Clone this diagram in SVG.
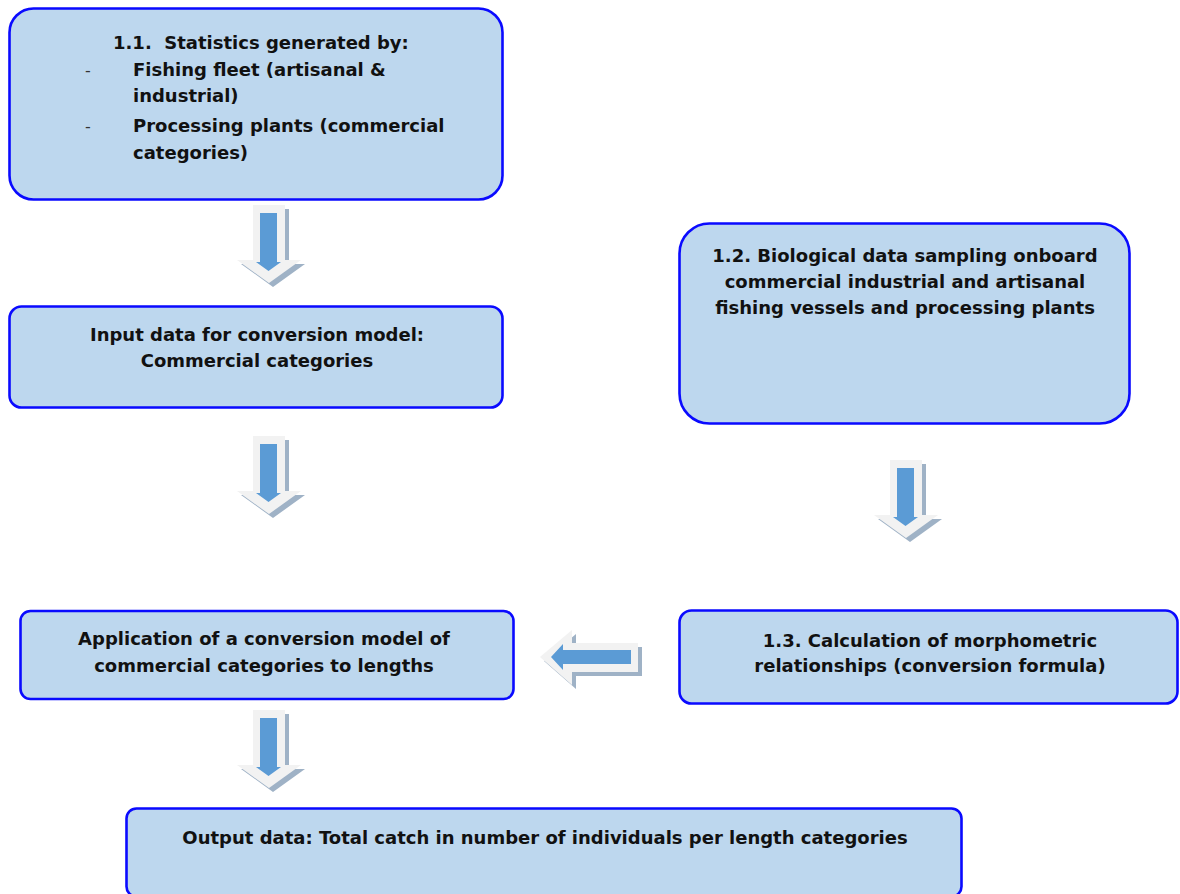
<svg xmlns="http://www.w3.org/2000/svg" width="1180" height="894" viewBox="0 0 1180 894">
<style>
.box{fill:#bdd7ee;stroke:#0a0aff;stroke-width:2.6}
.t{font-family:"DejaVu Sans","Liberation Sans",sans-serif;font-weight:bold;font-size:18px;fill:#111}
.d{font-family:"DejaVu Sans","Liberation Sans",sans-serif;font-size:16px;fill:#333}
.c{text-anchor:middle}
.sh{fill:#9fb2c6}
.ou{fill:#f2f2f2}
.in{fill:#5b9bd5}
</style>
<defs>
<g id="darr">
<path class="sh" d="M20,4 H52 V59 H68 L36,82 L4,59 H20 Z"/>
<path class="ou" d="M16,0 H48 V55 H64 L32,78 L0,55 H16 Z"/>
<path class="in" d="M23,8 H40 V57 H44 L31.5,66 L19,57 H23 Z"/>
</g>
</defs>
<rect width="1180" height="894" fill="#ffffff"/>
<g id="connectors">
<use href="#darr" x="237" y="205"/>
<use href="#darr" x="237" y="436"/>
<use href="#darr" x="874" y="460"/>
<use href="#darr" x="237" y="710"/>
<g id="arrow-left">
<path class="sh" d="M544,661 L576,634 V647 H642 V676 H576 V689 Z"/>
<path class="ou" d="M540,657 L572,630 V643 H638 V672 H572 V685 Z"/>
<path class="in" d="M551,657 L563,644 V650 H631 V664 H563 V670 Z"/>
</g>
</g>
<g id="node-1-1">
<rect class="box" x="9.5" y="8.5" width="493" height="191" rx="24"/>
<text class="t" x="113" y="49" xml:space="preserve">1.1.  Statistics generated by:</text>
<text class="d" x="85" y="76">-</text>
<text class="t" x="133" y="76">Fishing fleet (artisanal &amp;</text>
<text class="t" x="133" y="102">industrial)</text>
<text class="d" x="85" y="132">-</text>
<text class="t" x="133" y="132">Processing plants (commercial</text>
<text class="t" x="133" y="159">categories)</text>
</g>
<g id="node-input">
<rect class="box" x="9.5" y="306.5" width="493" height="101" rx="12"/>
<text class="t c" x="257" y="341">Input data for conversion model:</text>
<text class="t c" x="257" y="367">Commercial categories</text>
</g>
<g id="node-1-2">
<rect class="box" x="679.5" y="223.5" width="450" height="200" rx="30"/>
<text class="t c" x="905" y="262">1.2. Biological data sampling onboard</text>
<text class="t c" x="905" y="288">commercial industrial and artisanal</text>
<text class="t c" x="905" y="314">fishing vessels and processing plants</text>
</g>
<g id="node-application">
<rect class="box" x="20.5" y="611" width="493" height="88" rx="10"/>
<text class="t c" x="264" y="645">Application of a conversion model of</text>
<text class="t c" x="264" y="672">commercial categories to lengths</text>
</g>
<g id="node-1-3">
<rect class="box" x="679.5" y="610.5" width="498" height="93" rx="12"/>
<text class="t c" x="930" y="647">1.3. Calculation of morphometric</text>
<text class="t c" x="930" y="672">relationships (conversion formula)</text>
</g>
<g id="node-output">
<rect class="box" x="126.5" y="808.5" width="835" height="88" rx="10"/>
<text class="t c" x="545" y="844">Output data: Total catch in number of individuals per length categories</text>
</g>
</svg>
